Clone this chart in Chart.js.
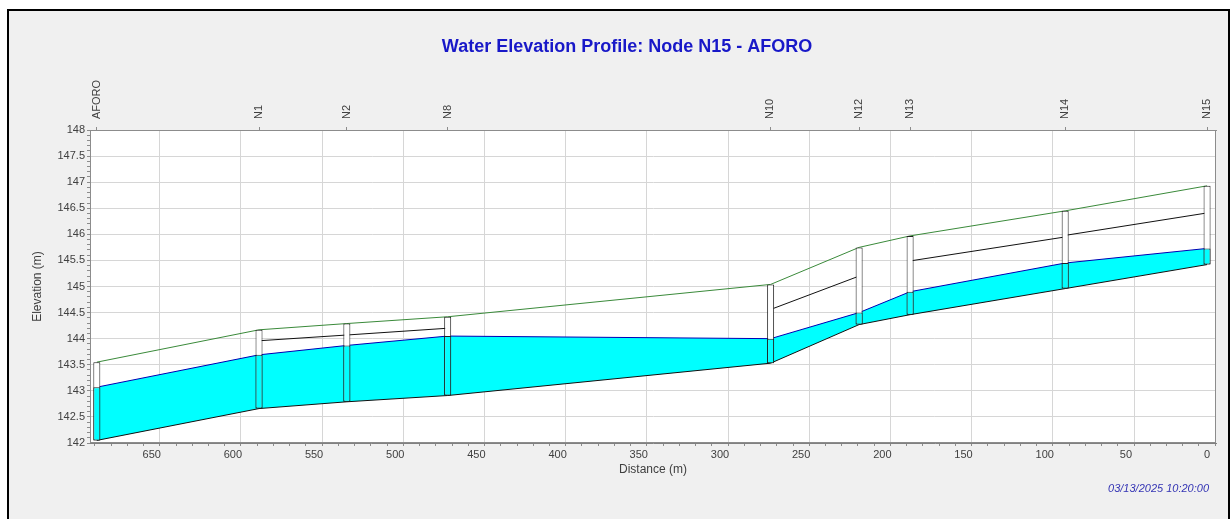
<!DOCTYPE html>
<html>
<head>
<meta charset="utf-8">
<title>Water Elevation Profile</title>
<script src="https://cdn.jsdelivr.net/npm/chart.js@4.4.1/dist/chart.umd.min.js"></script>
<style>
  html, body { margin: 0; padding: 0; background: #fff; }
  #profile { display: block; }
</style>
</head>
<body>
<canvas id="profile" width="1231" height="519"></canvas>
<script>
// nodes along the profile (distance measured from N15)
const nodeNames = ['AFORO', 'N1', 'N2', 'N8', 'N10', 'N12', 'N13', 'N14', 'N15'];
const nodeDistance = [683.8, 583.9, 529.8, 467.7, 268.8, 214.3, 182.9, 87.4, 0];
const groundElev = [143.55, 144.17, 144.29, 144.42, 145.04, 145.75, 145.97, 146.45, 146.93];
const invertElev = [142.05, 142.66, 142.79, 142.91, 143.53, 144.27, 144.46, 144.96, 145.42];
const waterElev = [143.07, 143.69, 143.87, 144.05, 144.00, 144.50, 144.90, 145.45, 145.73];

// conduit crowns that show below the ground line
const crownFrom = ['N1', 'N2', 'N10', 'N13', 'N14'];
const crownTo = ['N2', 'N8', 'N12', 'N14', 'N15'];
const crownStart = [143.96, 144.07, 144.56, 145.49, 145.98];
const crownEnd = [144.07, 144.20, 145.20, 145.95, 146.41];

const distanceTicks = [0, 50, 100, 150, 200, 250, 300, 350, 400, 450, 500, 550, 600, 650];
const elevationTicks = [142, 142.5, 143, 143.5, 144, 144.5, 145, 145.5, 146, 146.5, 147, 147.5, 148];

const chartTitle = 'Water Elevation Profile: Node N15 - AFORO';
const timeStamp = '03/13/2025 10:20:00';

const FONT = '"Liberation Sans", Arial, sans-serif';
Chart.defaults.font.family = FONT;

// minor tick positions (every 10 m / 0.1 m)
const distanceMinor = [];
for (let d = 0; d <= 680; d += 10) distanceMinor.push(d);
const elevationMinor = [];
for (let i = 0; i <= 60; i++) elevationMinor.push(Math.round(1420 + i) / 10);

const pts = (ys) => nodeDistance.map((d, i) => ({x: d, y: ys[i]}));
const at = (name) => nodeDistance[nodeNames.indexOf(name)];

const crownSets = crownFrom.map((from, i) => ({
  type: 'line',
  label: 'Crown ' + from + '-' + crownTo[i],
  data: [{x: at(from), y: crownStart[i]}, {x: at(crownTo[i]), y: crownEnd[i]}],
  borderColor: '#111111',
  borderWidth: 1,
  pointRadius: 0,
  fill: false,
  order: 3
}));

const frame = {
  id: 'frame',
  beforeDraw(chart) {
    const {ctx, chartArea: a} = chart;
    ctx.save();
    ctx.fillStyle = '#ffffff';
    ctx.fillRect(0, 0, chart.width, chart.height);
    ctx.fillStyle = '#f0f0f0';
    ctx.fillRect(8, 10, 1221, 530);
    ctx.strokeStyle = '#000000';
    ctx.lineWidth = 2;
    ctx.strokeRect(8, 10, 1221, 530);
    ctx.fillStyle = '#ffffff';
    ctx.fillRect(a.left, a.top, a.width, a.height);
    ctx.restore();
  },
  afterDraw(chart) {
    const {ctx, chartArea: a} = chart;
    ctx.save();
    ctx.strokeStyle = '#8c8c8c';
    ctx.lineWidth = 1;
    ctx.strokeRect(a.left + 0.5, a.top + 0.5, a.width - 1, a.height - 1);
    ctx.textBaseline = 'middle';
    ctx.textAlign = 'center';
    ctx.fillStyle = '#1818c8';
    ctx.font = 'bold 18px ' + FONT;
    ctx.fillText(chartTitle, 627, 47);
    ctx.textAlign = 'right';
    ctx.fillStyle = '#3434b4';
    ctx.font = 'italic 11px ' + FONT;
    ctx.fillText(timeStamp, 1209, 489);
    ctx.restore();
  }
};

new Chart(document.getElementById('profile'), {
  type: 'line',
  data: {
    datasets: [
      {
        label: 'Water surface',
        data: pts(waterElev),
        borderColor: '#0000b4',
        borderWidth: 1,
        backgroundColor: '#00ffff',
        fill: '+1',
        pointRadius: 0,
        order: 5
      },
      {
        label: 'Conduit invert',
        data: pts(invertElev),
        borderColor: '#111111',
        borderWidth: 1,
        pointRadius: 0,
        fill: false,
        order: 4
      },
      {
        label: 'Ground',
        data: pts(groundElev),
        borderColor: '#3a8a3a',
        borderWidth: 1,
        pointRadius: 0,
        fill: false,
        order: 3
      },
      ...crownSets,
      {
        type: 'bar',
        label: 'Node',
        data: nodeDistance.map((d, i) => ({x: d, y: [invertElev[i], groundElev[i]]})),
        backgroundColor: '#ffffff',
        borderColor: '#202020',
        borderWidth: 1,
        borderSkipped: false,
        grouped: false,
        maxBarThickness: 7,
        order: 2
      },
      {
        type: 'bar',
        label: 'Node water',
        data: nodeDistance.map((d, i) => ({x: d, y: [invertElev[i], waterElev[i]]})),
        backgroundColor: '#00ffff',
        borderColor: '#202020',
        borderWidth: 1,
        borderSkipped: false,
        grouped: false,
        maxBarThickness: 7,
        order: 1
      }
    ]
  },
  options: {
    responsive: false,
    animation: false,
    events: [],
    layout: { padding: { left: 0, right: 15, top: 0, bottom: 0 } },
    plugins: {
      legend: { display: false },
      tooltip: { enabled: false }
    },
    scales: {
      x: {
        type: 'linear',
        position: 'bottom',
        reverse: true,
        min: -5.5,
        max: 688,
        offset: false,
        afterBuildTicks: (s) => { s.ticks = distanceMinor.map(v => ({value: v})); },
        afterFit: (s) => { s.height = 76; },
        ticks: {
          autoSkip: false,
          maxRotation: 0,
          minRotation: 0,
          padding: 2,
          color: '#404040',
          font: { size: 11 },
          callback: (v) => distanceTicks.includes(v) ? String(v) : ''
        },
        grid: {
          color: (c) => (c.tick && distanceTicks.includes(c.tick.value)) ? '#d6d6d6' : 'rgba(0,0,0,0)',
          tickColor: '#8c8c8c',
          tickLength: 3
        },
        border: { color: '#808080' },
        title: {
          display: true,
          text: 'Distance (m)',
          color: '#404040',
          font: { size: 12 },
          padding: { top: 0, bottom: 42 }
        }
      },
      top: {
        type: 'linear',
        position: 'top',
        reverse: true,
        min: -5.5,
        max: 688,
        offset: false,
        afterBuildTicks: (s) => { s.ticks = nodeDistance.map(v => ({value: v})); },
        afterFit: (s) => { s.height = 130; },
        ticks: {
          autoSkip: false,
          minRotation: 90,
          maxRotation: 90,
          padding: 8,
          labelOffset: 13,
          color: '#404040',
          font: { size: 11 },
          callback: (v, i) => nodeNames[i]
        },
        grid: { drawOnChartArea: false, tickLength: 3, tickColor: '#8c8c8c' },
        border: { color: '#909090' }
      },
      y: {
        type: 'linear',
        position: 'left',
        min: 142,
        max: 148,
        afterBuildTicks: (s) => { s.ticks = elevationMinor.map(v => ({value: v})); },
        afterFit: (s) => { s.width = 90; },
        ticks: {
          autoSkip: false,
          padding: 2,
          color: '#404040',
          font: { size: 11 },
          callback: (v) => elevationTicks.includes(v) ? String(v) : ''
        },
        grid: {
          color: (c) => (c.tick && elevationTicks.includes(c.tick.value)) ? '#d6d6d6' : 'rgba(0,0,0,0)',
          tickColor: '#8c8c8c',
          tickLength: 3
        },
        border: { color: '#808080' },
        title: {
          display: true,
          text: 'Elevation (m)',
          color: '#404040',
          font: { size: 12 },
          padding: { top: 30, bottom: 0 }
        }
      }
    }
  },
  plugins: [frame]
});
</script>
</body>
</html>
